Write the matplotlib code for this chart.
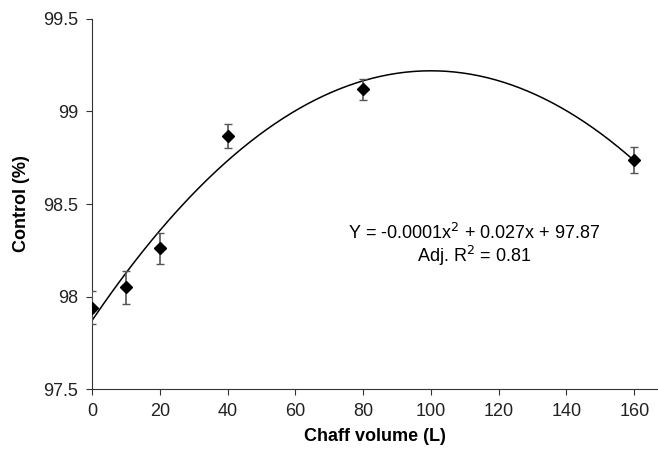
import matplotlib
matplotlib.use("Agg")
import matplotlib.pyplot as plt
import numpy as np

plt.rcParams['font.family'] = ['Liberation Sans', 'DejaVu Sans']

# -------------------- DATA --------------------
chaff_volume = [0, 10, 20, 40, 80, 160]
control = [97.94, 98.05, 98.26, 98.87, 99.12, 98.74]
control_err = [0.09, 0.09, 0.085, 0.065, 0.057, 0.07]

# fitted quadratic (coefficients as drawn)
fit_a, fit_b, fit_c = -0.000135, 0.027, 97.87
fit_x = np.linspace(0, 160, 200)
fit_y = fit_a * fit_x ** 2 + fit_b * fit_x + fit_c

xticks = [0, 20, 40, 60, 80, 100, 120, 140, 160]
yticks = [97.5, 98, 98.5, 99, 99.5]

# -------------------- PLOT --------------------
fig = plt.figure(figsize=(6.58, 4.49), dpi=100)
ax = fig.add_axes([0.1398, 0.1336, 0.8602, 0.8241])

ax.plot(fit_x, fit_y, color='black', lw=1.1)
ax.errorbar(chaff_volume, control, yerr=control_err, fmt='D', color='black',
            ms=6, ecolor='#555555', elinewidth=1.2, capsize=3, capthick=1, zorder=3)

ax.text(112.8, 98.345, r'Y = -0.0001x$^{2}$ + 0.027x + 97.87', ha='center', va='center', fontsize=13)
ax.text(112.8, 98.22, r'Adj. R$^{2}$ = 0.81', ha='center', va='center', fontsize=13)

ax.set_xlim(0, 167)
ax.set_ylim(97.5, 99.5)
ax.set_xticks(xticks)
ax.set_yticks(yticks)
ax.set_yticklabels([f"{t:g}" for t in yticks])
ax.tick_params(direction='out', length=4, labelsize=13, color='#333333', labelcolor='#222222')
ax.tick_params(axis='x', pad=6)
ax.tick_params(axis='y', pad=6)

for side in ['top', 'right']:
    ax.spines[side].set_visible(False)
for side in ['left', 'bottom']:
    ax.spines[side].set_color('#333333')

ax.set_xlabel('Chaff volume (L)', fontsize=13, fontweight='bold', labelpad=6)
ax.set_ylabel('Control (%)', fontsize=13, fontweight='bold', labelpad=9)

fig.savefig('out.png', dpi=100)
